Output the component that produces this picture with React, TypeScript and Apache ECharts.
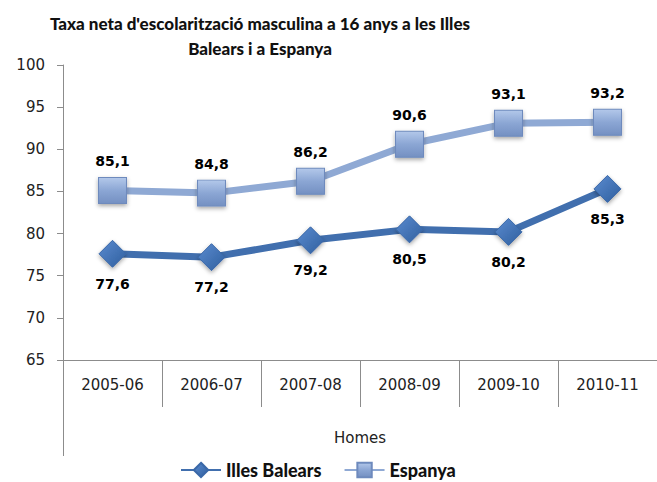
import React, { useEffect, useRef } from "react";
import * as echarts from "echarts";

const categories = ["2005-06", "2006-07", "2007-08", "2008-09", "2009-10", "2010-11"];
const illesBalears = [77.6, 77.2, 79.2, 80.5, 80.2, 85.3];
const espanya = [85.1, 84.8, 86.2, 90.6, 93.1, 93.2];
const seriesNames = ["Illes Balears", "Espanya"];
const titleText = "Taxa neta d'escolarització masculina a 16 anys a les Illes\nBalears i a Espanya";
const axisName = "Homes";

const GRID_LEFT = 63;
const GRID_TOP = 65;
const GRID_HEIGHT = 295;
const GRID_WIDTH = 600;

const fmt = (v: number) => v.toFixed(1).replace(".", ",");

export default function App() {
  const ref = useRef<HTMLDivElement>(null);
  useEffect(() => {
    if (!ref.current) return;
    const chart = echarts.init(ref.current, undefined, { renderer: "svg" });
    const labelStyle = {
      show: true,
      fontFamily: "DejaVu Sans",
      fontWeight: "bold" as const,
      fontSize: 14,
      color: "#000",
      formatter: (p: any) => fmt(p.value),
    };
    chart.setOption({
      animation: false,
      backgroundColor: "#fff",
      title: {
        text: titleText,
        left: 255,
        top: 6,
        textAlign: "center",
        textStyle: {
          fontFamily: "Lato",
          fontWeight: 900,
          fontSize: 17,
          lineHeight: 25,
          color: "#111",
        },
      },
      legend: {
        left: 175,
        top: 456,
        itemWidth: 40,
        itemHeight: 18,
        itemGap: 22,
        textStyle: { fontFamily: "Lato", fontWeight: 900, fontSize: 18, color: "#111" },
        data: seriesNames,
      },
      grid: { left: GRID_LEFT, top: GRID_TOP, width: GRID_WIDTH, height: GRID_HEIGHT },
      xAxis: {
        type: "category",
        data: categories,
        boundaryGap: true,
        name: axisName,
        nameLocation: "middle",
        nameGap: 70,
        nameTextStyle: { fontFamily: "DejaVu Sans", fontSize: 15, color: "#222" },
        axisLine: { show: true, lineStyle: { color: "#8c8c8c", width: 1 } },
        axisTick: { show: true, length: 47, lineStyle: { color: "#8c8c8c" } },
        axisLabel: { fontFamily: "DejaVu Sans", fontSize: 15, color: "#222", margin: 17 },
        splitLine: { show: false },
      },
      yAxis: {
        type: "value",
        min: 65,
        max: 100,
        interval: 5,
        axisLine: { show: true, lineStyle: { color: "#8c8c8c", width: 1 } },
        axisTick: { show: true, length: 6, lineStyle: { color: "#8c8c8c" } },
        axisLabel: { fontFamily: "DejaVu Sans", fontSize: 15, color: "#222", margin: 18 },
        splitLine: { show: false },
      },
      graphic: [
        {
          type: "line",
          shape: {
            x1: GRID_LEFT + 0.5,
            y1: GRID_TOP + GRID_HEIGHT,
            x2: GRID_LEFT + 0.5,
            y2: GRID_TOP + GRID_HEIGHT + 96,
          },
          style: { stroke: "#8c8c8c", lineWidth: 1 },
        },
      ],
      series: [
        {
          name: seriesNames[0],
          type: "line",
          data: illesBalears,
          symbol: "diamond",
          symbolSize: [27, 27],
          lineStyle: { color: "#416FAE", width: 7 },
          itemStyle: {
            color: new echarts.graphic.LinearGradient(0, 0, 1, 1, [
              { offset: 0, color: "#5B8BD0" },
              { offset: 1, color: "#2F5F9E" },
            ]),
            borderColor: "#3A68A8",
            borderWidth: 1,
            shadowBlur: 4,
            shadowOffsetY: 2,
            shadowColor: "rgba(0,0,0,0.35)",
          },
          label: { ...labelStyle, position: "bottom", distance: 9 },
        },
        {
          name: seriesNames[1],
          type: "line",
          data: espanya,
          symbol: "rect",
          symbolSize: [28, 26],
          lineStyle: { color: "#8FA9D4", width: 7 },
          itemStyle: {
            color: new echarts.graphic.LinearGradient(0, 0, 0, 1, [
              { offset: 0, color: "#B3C8EA" },
              { offset: 0.5, color: "#8BA6D4" },
              { offset: 1, color: "#7490C2" },
            ]),
            borderColor: "#6E8ABD",
            borderWidth: 1,
            shadowBlur: 4,
            shadowOffsetY: 2,
            shadowColor: "rgba(0,0,0,0.35)",
          },
          label: { ...labelStyle, position: "top", distance: 9 },
        },
      ],
    });
    return () => chart.dispose();
  }, []);
  return (
    <div
      ref={ref}
      style={{ position: "absolute", left: 0, top: 0, width: 657, height: 482 }}
    />
  );
}
